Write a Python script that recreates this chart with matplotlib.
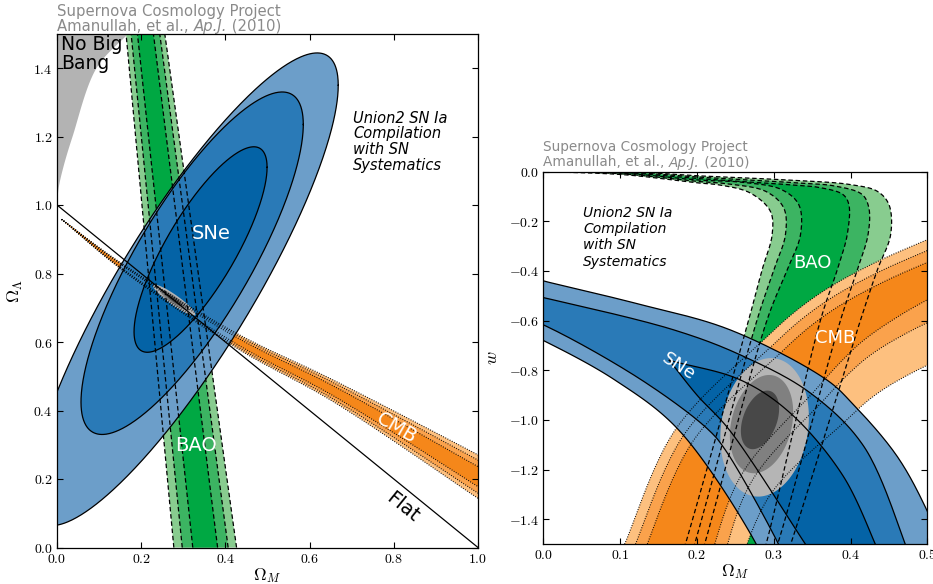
import numpy as np
import matplotlib
matplotlib.use('Agg')
import matplotlib.pyplot as plt

plt.rcParams['mathtext.fontset'] = 'cm'
plt.rcParams['font.family'] = ['DejaVu Sans']

# ----------------------------- DATA -----------------------------
# Left panel (Omega_M, Omega_Lambda)
L_XTICKS = [0.0, 0.2, 0.4, 0.6, 0.8, 1.0]
L_XTICKLABELS = ['0.0', '0.2', '0.4', '0.6', '0.8', '1.0']
L_YTICKS = [0.0, 0.2, 0.4, 0.6, 0.8, 1.0, 1.2, 1.4]
L_YTICKLABELS = ['0.0', '0.2', '0.4', '0.6', '0.8', '1.0', '1.2', '1.4']

# "No Big Bang" boundary
NBB_X = [0.0, 0.004, 0.015, 0.037, 0.094, 0.169, 0.19]
NBB_Y = [1.0, 1.05, 1.11, 1.2, 1.4, 1.5, 1.53]

# SNe confidence ellipses (outer, middle, inner): centre, half-extent, correlation
SNE_L_CX = [0.303, 0.321, 0.341]
SNE_L_CY = [0.754, 0.830, 0.870]
SNE_L_SX = [0.365, 0.264, 0.158]
SNE_L_SY = [0.690, 0.500, 0.300]
SNE_L_RHO = [0.863, 0.810, 0.800]

# BAO band (straight): centre and half widths at y=0 and y=1.5 (outer, middle, inner)
BAO_L_Y = [0.0, 1.5]
BAO_L_CENTER = [0.352, 0.210]
BAO_L_HALF = [[0.0745, 0.046], [0.0545, 0.034], [0.0295, 0.019]]

# CMB wedge: centre line and outer half width
CMB_L_X = [0.011, 0.154, 0.427, 0.656, 1.0, 1.05]
CMB_L_C = [0.958, 0.820, 0.6035, 0.4575, 0.207, 0.1706]
CMB_L_HW = [0.0, 0.009, 0.0215, 0.0315, 0.0634, 0.067]
CMB_L_FRAC = [1.0, 0.76, 0.46]

# Combined contour (left): centre, half major / minor vectors, level scales
COMB_L_C = [0.2784, 0.7225]
COMB_L_MAJ = [0.0496, -0.0435]
COMB_L_MIN = [-0.0069, -0.0119]
COMB_L_SCALE = [1.0, 0.7, 0.4]

FLAT_X = [0.0, 1.0]
FLAT_Y = [1.0, 0.0]

# Right panel (Omega_M, w)
R_XTICKS = [0.0, 0.1, 0.2, 0.3, 0.4, 0.5]
R_XTICKLABELS = ['0.0', '0.1', '0.2', '0.3', '0.4', '0.5']
R_YTICKS = [0.0, -0.2, -0.4, -0.6, -0.8, -1.0, -1.2, -1.4]
R_YTICKLABELS = ['0.0', '-0.2', '-0.4', '-0.6', '-0.8', '-1.0', '-1.2', '-1.4']

# SNe band boundaries (upper/lower of outer, middle, inner)
OU_X = [-0.05, 0.0, 0.12, 0.2434, 0.369, 0.402, 0.4608, 0.5016, 0.53]
OU_W = [-0.40, -0.44, -0.53, -0.6375, -0.839, -0.933, -1.148, -1.38, -1.60]
OL_X = [-0.05, 0.0, 0.093, 0.176, 0.277, 0.29]
OL_W = [-0.61, -0.68, -0.839, -1.04, -1.50, -1.60]
MU_X = [-0.05, 0.0, 0.1695, 0.2564, 0.3477, 0.4172, 0.471, 0.48]
MU_W = [-0.472, -0.507, -0.637, -0.738, -0.892, -1.107, -1.50, -1.58]
ML_X = [-0.05, 0.0, 0.1278, 0.215, 0.2369, 0.306, 0.32]
ML_W = [-0.56, -0.617, -0.839, -1.04, -1.121, -1.50, -1.60]
IU_X = [0.164, 0.2565, 0.3216, 0.39, 0.432, 0.44]
IU_W = [-0.76, -0.839, -0.973, -1.225, -1.50, -1.56]
IL_X = [0.164, 0.20, 0.242, 0.341, 0.352]
IL_W = [-0.76, -0.90, -1.04, -1.50, -1.55]

# BAO boundaries (left side outer->inner: B1,B2,B3 ; right side inner->outer: B4,B5,B6)
B1_X = [0.175, 0.185, 0.2673, 0.2847, 0.2978, 0.2956, 0.2695, 0.2304, 0.204, 0.1043, 0.0, -0.05]
B1_W = [-1.6, -1.5, -0.597, -0.396, -0.254, -0.16, -0.086, -0.054, -0.046, -0.012, 0.0, 0.004]
B2_X = [0.187, 0.197, 0.2782, 0.2999, 0.3151, 0.3129, 0.290, 0.24, 0.204, 0.1043, 0.0, -0.05]
B2_W = [-1.6, -1.5, -0.597, -0.396, -0.254, -0.146, -0.080, -0.049, -0.040, -0.009, 0.003, 0.007]
B3_X = [0.200, 0.210, 0.2912, 0.3173, 0.3347, 0.3325, 0.310, 0.26, 0.204, 0.1043, 0.0, -0.05]
B3_W = [-1.6, -1.5, -0.597, -0.396, -0.254, -0.133, -0.072, -0.043, -0.034, -0.006, 0.006, 0.010]
B4_X = [0.280, 0.290, 0.3608, 0.3825, 0.3955, 0.3977, 0.390, 0.360, 0.3347, 0.204, 0.1043, 0.0, -0.05]
B4_W = [-1.6, -1.5, -0.597, -0.396, -0.254, -0.133, -0.092, -0.064, -0.056, -0.028, -0.003, 0.009, 0.013]
B5_X = [0.293, 0.305, 0.3869, 0.4086, 0.4226, 0.4237, 0.415, 0.380, 0.3347, 0.204, 0.1043, 0.0, -0.05]
B5_W = [-1.6, -1.5, -0.597, -0.396, -0.254, -0.146, -0.092, -0.058, -0.046, -0.022, 0.0, 0.012, 0.016]
B6_X = [0.310, 0.322, 0.4129, 0.4347, 0.452, 0.4499, 0.4347, 0.400, 0.3347, 0.204, 0.1043, 0.0, -0.05]
B6_W = [-1.6, -1.5, -0.597, -0.396, -0.254, -0.133, -0.079, -0.052, -0.036, -0.017, 0.003, 0.015, 0.020]

# CMB boundaries (C1 outer upper-left ... C6 outer lower-right)
C1_X = [0.092, 0.106, 0.1717, 0.2868, 0.3304, 0.3738, 0.4347, 0.5042, 0.54]
C1_W = [-1.60, -1.50, -1.04, -0.678, -0.557, -0.463, -0.362, -0.268, -0.22]
C2_X = [0.106, 0.1179, 0.1825, 0.2958, 0.3385, 0.3806, 0.4404, 0.5094, 0.54]
C2_W = [-1.60, -1.516, -1.0625, -0.707, -0.5886, -0.4975, -0.3983, -0.3048, -0.263]
C3_X = [0.122, 0.131, 0.1944, 0.3057, 0.3474, 0.3881, 0.4467, 0.5151, 0.54]
C3_W = [-1.60, -1.534, -1.0874, -0.739, -0.623, -0.5352, -0.4382, -0.3452, -0.312]
C4_X = [0.2086, 0.258, 0.3518, 0.3855, 0.4168, 0.4678, 0.532]
C4_W = [-1.64, -1.2207, -0.8876, -0.7713, -0.6794, -0.5719, -0.463]
C5_X = [0.2241, 0.2711, 0.3634, 0.3969, 0.4278, 0.4786, 0.5438]
C5_W = [-1.661, -1.2477, -0.9255, -0.8155, -0.7342, -0.6408, -0.5465]
C6_X = [0.2432, 0.2958, 0.3905, 0.4236, 0.4524, 0.5004, 0.5644]
C6_W = [-1.6867, -1.2997, -1.0125, -0.9195, -0.8578, -0.7785, -0.6919]

# Combined contours (right): centre, half widths, tilt
COMB_R_CX = [0.288, 0.284, 0.282]
COMB_R_CW = [-1.030, -1.017, -1.000]
COMB_R_AX = [0.057, 0.040, 0.023]
COMB_R_AW = [0.279, 0.198, 0.118]
COMB_R_K = [0.03, 0.05, 0.08]

# Colours
SNE_COLORS = ['#6c9ec9', '#2a7ab7', '#0463a6']
BAO_COLORS = ['#88cc8f', '#3cb462', '#00a843']
CMB_COLORS = ['#fdc07f', '#faa24c', '#f5871a']
GRAY_COLORS = ['#b5b5b5', '#808080', '#484848']
NBB_COLOR = '#b3b3b3'
TITLE_COLOR = '#8a8a8a'

DASH = (0, (3.6, 2.2))
DOT = (0, (0.8, 1.4))


# ----------------------------- helpers -----------------------------
def cr(xs, ys, sx, sy, n=24):
    """Centripetal Catmull-Rom curve through the given anchor points."""
    P = np.column_stack([np.asarray(xs, float) * sx, np.asarray(ys, float) * sy])
    P = np.vstack([2 * P[0] - P[1], P, 2 * P[-1] - P[-2]])
    segs = []
    for i in range(1, len(P) - 2):
        p0, p1, p2, p3 = P[i - 1], P[i], P[i + 1], P[i + 2]
        d01 = max(np.hypot(*(p1 - p0)) ** 0.5, 1e-6)
        d12 = max(np.hypot(*(p2 - p1)) ** 0.5, 1e-6)
        d23 = max(np.hypot(*(p3 - p2)) ** 0.5, 1e-6)
        t0, t1 = 0.0, d01
        t2 = t1 + d12
        t3 = t2 + d23
        t = np.linspace(t1, t2, n, endpoint=False)[:, None]
        A1 = (t1 - t) / (t1 - t0) * p0 + (t - t0) / (t1 - t0) * p1
        A2 = (t2 - t) / (t2 - t1) * p1 + (t - t1) / (t2 - t1) * p2
        A3 = (t3 - t) / (t3 - t2) * p2 + (t - t2) / (t3 - t2) * p3
        B1 = (t2 - t) / (t2 - t0) * A1 + (t - t0) / (t2 - t0) * A2
        B2 = (t3 - t) / (t3 - t1) * A2 + (t - t1) / (t3 - t1) * A3
        C = (t2 - t) / (t2 - t1) * B1 + (t - t1) / (t2 - t1) * B2
        segs.append(C)
    segs.append(P[-2][None, :])
    R = np.vstack(segs)
    return R[:, 0] / sx, R[:, 1] / sy


def band(ax, xa, ya, xb, yb, color, z):
    ax.fill(np.concatenate([xa, xb[::-1]]), np.concatenate([ya, yb[::-1]]),
            color=color, lw=0, zorder=z)


def style_axes(ax, xt, xtl, yt, ytl):
    ax.set_xticks(xt)
    ax.set_xticklabels(['$%s$' % s for s in xtl])
    ax.set_yticks(yt)
    ax.set_yticklabels(['$%s$' % s for s in ytl])
    ax.tick_params(direction='in', top=True, right=True, length=4, width=0.8,
                   labelsize=10, pad=3)
    for s in ax.spines.values():
        s.set_linewidth(0.9)
        s.set_zorder(30)
    ax.xaxis.set_zorder(30)
    ax.yaxis.set_zorder(30)


fig = plt.figure(figsize=(9.33, 5.84), dpi=100)
W, H = 933.0, 584.0

# ============================ LEFT PANEL ============================
ax1 = fig.add_axes([57 / W, (H - 547.5) / H, 421 / W, 513.75 / H])
ax1.set_xlim(0, 1)
ax1.set_ylim(0, 1.5)
SLX, SLY = 421.0, 342.5

# No Big Bang
nx, ny = cr(NBB_X, NBB_Y, SLX, SLY)
ax1.fill(np.concatenate([nx, [NBB_X[-1], -0.02, -0.02]]),
         np.concatenate([ny, [1.6, 1.6, NBB_Y[0]]]), color=NBB_COLOR, lw=0, zorder=1)

# BAO band
bao_edges = []
for i, (h0, h1) in enumerate(BAO_L_HALF):
    c0, c1 = BAO_L_CENTER
    xl = [c0 - h0, c1 - h1]
    xr = [c0 + h0, c1 + h1]
    ax1.fill(xl + xr[::-1], BAO_L_Y + BAO_L_Y[::-1], color=BAO_COLORS[i], lw=0, zorder=2)
    bao_edges += [xl, xr]

# CMB wedge
cmb_edges = []
cc = np.array(CMB_L_C)
hw = np.array(CMB_L_HW)
for i, f in enumerate(CMB_L_FRAC):
    ux, uy = cr(CMB_L_X, cc + f * hw, SLX, SLY)
    lx, ly = cr(CMB_L_X, cc - f * hw, SLX, SLY)
    band(ax1, ux, uy, lx, ly, CMB_COLORS[i], 3)
    cmb_edges += [(ux, uy), (lx, ly)]

# SNe ellipses
t = np.linspace(0, 2 * np.pi, 600)
for i in range(3):
    ex = SNE_L_CX[i] + SNE_L_SX[i] * np.cos(t)
    ey = SNE_L_CY[i] + SNE_L_SY[i] * (SNE_L_RHO[i] * np.cos(t) +
                                       np.sqrt(1 - SNE_L_RHO[i] ** 2) * np.sin(t))
    ax1.fill(ex, ey, color=SNE_COLORS[i], lw=0, zorder=4)
    ax1.plot(ex, ey, color='black', lw=0.9, zorder=5)

# Combined contour
for i, s in enumerate(COMB_L_SCALE):
    gx = COMB_L_C[0] + s * (COMB_L_MAJ[0] * np.cos(t) + COMB_L_MIN[0] * np.sin(t))
    gy = COMB_L_C[1] + s * (COMB_L_MAJ[1] * np.cos(t) + COMB_L_MIN[1] * np.sin(t))
    ax1.fill(gx, gy, color=GRAY_COLORS[i], lw=0, zorder=5.5)

for xe in bao_edges:
    ax1.plot(xe, BAO_L_Y, color='black', lw=0.9, ls=DASH, zorder=6)
for (ex, ey) in cmb_edges:
    ax1.plot(ex, ey, color='black', lw=0.8, ls=DOT, zorder=6)

ax1.plot(FLAT_X, FLAT_Y, color='black', lw=0.9, zorder=7)

ax1.text(0.0095, 1.497, 'No Big\nBang', fontsize=13.5, va='top', ha='left',
         linespacing=1.0, zorder=10)
ax1.text(0.367, 0.918, 'SNe', color='white', fontsize=14, ha='center', va='center', zorder=10)
ax1.text(0.331, 0.297, 'BAO', color='white', fontsize=14, ha='center', va='center', zorder=10)
ax1.text(0.807, 0.349, 'CMB', color='white', fontsize=14, ha='center', va='center',
         rotation=-30, rotation_mode='anchor', zorder=10)
ax1.text(0.82, 0.118, 'Flat', color='black', fontsize=14, ha='center', va='center',
         rotation=-39, rotation_mode='anchor', zorder=10)
ax1.text(0.703, 1.275, 'Union2 SN Ia\nCompilation\nwith SN\nSystematics',
         style='italic', fontsize=10.5, ha='left', va='top', linespacing=1.05, zorder=10)

style_axes(ax1, L_XTICKS, L_XTICKLABELS, L_YTICKS, L_YTICKLABELS)
ax1.set_xlabel(r'$\Omega_M$', fontsize=12.5, labelpad=0)
ax1.set_ylabel(r'$\Omega_\Lambda$', fontsize=13, labelpad=6)

# ============================ RIGHT PANEL ============================
ax2 = fig.add_axes([543.3 / W, (H - 544.0) / H, 384.2 / W, 372.3 / H])
ax2.set_xlim(0, 0.5)
ax2.set_ylim(-1.5, 0.0)
SRX, SRY = 767.0, 248.3

# BAO
Bs = [cr(x, w, SRX, SRY) for x, w in [(B1_X, B1_W), (B2_X, B2_W), (B3_X, B3_W),
                                       (B4_X, B4_W), (B5_X, B5_W), (B6_X, B6_W)]]
for i in range(3):
    band(ax2, Bs[i][0], Bs[i][1], Bs[5 - i][0], Bs[5 - i][1], BAO_COLORS[i], 2)

# CMB
Cs = [cr(x, w, SRX, SRY) for x, w in [(C1_X, C1_W), (C2_X, C2_W), (C3_X, C3_W),
                                       (C4_X, C4_W), (C5_X, C5_W), (C6_X, C6_W)]]
for i in range(3):
    band(ax2, Cs[i][0], Cs[i][1], Cs[5 - i][0], Cs[5 - i][1], CMB_COLORS[i], 3)

# SNe
S = {k: cr(x, w, SRX, SRY) for k, x, w in [('OU', OU_X, OU_W), ('OL', OL_X, OL_W),
                                           ('MU', MU_X, MU_W), ('ML', ML_X, ML_W),
                                           ('IU', IU_X, IU_W), ('IL', IL_X, IL_W)]}
for i, (u, l) in enumerate([('OU', 'OL'), ('MU', 'ML'), ('IU', 'IL')]):
    band(ax2, S[u][0], S[u][1], S[l][0], S[l][1], SNE_COLORS[i], 4)

# combined contours
for i in range(3):
    gx = COMB_R_CX[i] + COMB_R_AX[i] * np.cos(t) + COMB_R_K[i] * COMB_R_AW[i] * np.sin(t)
    gw = COMB_R_CW[i] + COMB_R_AW[i] * np.sin(t)
    ax2.fill(gx, gw, color=GRAY_COLORS[i], lw=0, zorder=4.5)

for k in S:
    ax2.plot(S[k][0], S[k][1], color='black', lw=0.9, zorder=5)
for (bx, bw) in Bs:
    ax2.plot(bx, bw, color='black', lw=0.9, ls=DASH, zorder=6)
for (cx, cw) in Cs:
    ax2.plot(cx, cw, color='black', lw=0.8, ls=DOT, zorder=6)

ax2.text(0.052, -0.138, 'Union2 SN Ia\nCompilation\nwith SN\nSystematics',
         style='italic', fontsize=10, ha='left', va='top', linespacing=1.2, zorder=10)
ax2.text(0.35, -0.369, 'BAO', color='white', fontsize=13, ha='center', va='center', zorder=10)
ax2.text(0.38, -0.671, 'CMB', color='white', fontsize=13, ha='center', va='center', zorder=10)
ax2.text(0.176, -0.785, 'SNe', color='white', fontsize=13, ha='center', va='center',
         rotation=-33, rotation_mode='anchor', zorder=10)

style_axes(ax2, R_XTICKS, R_XTICKLABELS, R_YTICKS, R_YTICKLABELS)
ax2.set_xlabel(r'$\Omega_M$', fontsize=12.5, labelpad=0)
ax2.set_ylabel(r'$w$', fontsize=13, labelpad=6)

# ============================ TITLES ============================
for xp, y1, y2, fs in [(57, 15.7, 30.7, 10.7), (543.3, 150.7, 166.5, 9.8)]:
    fig.text(xp / W, 1 - y1 / H, 'Supernova Cosmology Project', color=TITLE_COLOR,
             fontsize=fs, ha='left', va='baseline')
    a1 = fig.text(xp / W, 1 - y2 / H, 'Amanullah, et al., ', color=TITLE_COLOR,
                  fontsize=fs, ha='left', va='baseline')
    a2 = ax1.annotate('Ap.J.', xy=(1, 0), xycoords=a1, va='bottom', ha='left',
                      color=TITLE_COLOR, fontsize=fs, style='italic', annotation_clip=False)
    ax1.annotate(' (2010)', xy=(1, 0), xycoords=a2, va='bottom', ha='left',
                 color=TITLE_COLOR, fontsize=fs, annotation_clip=False)

fig.savefig('out.png', dpi=100)
